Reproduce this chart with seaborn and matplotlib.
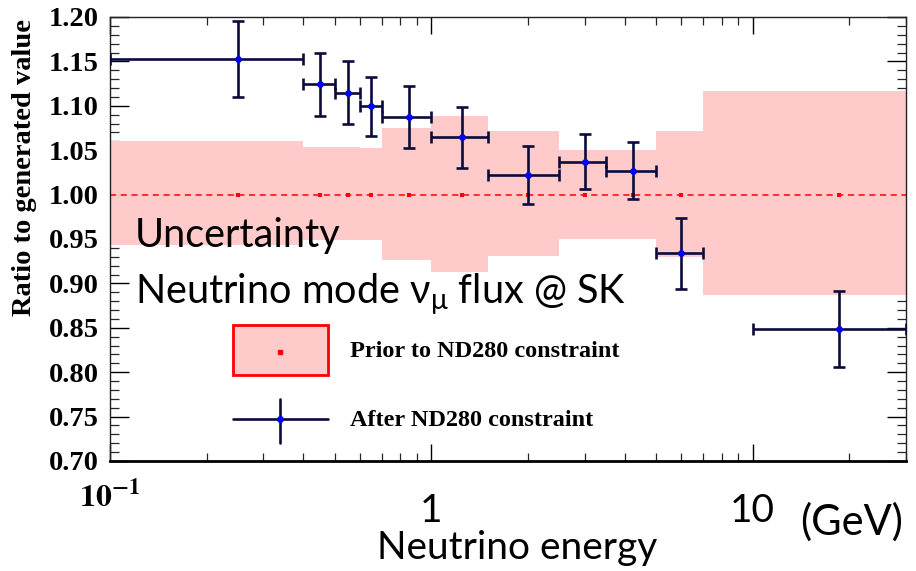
import numpy as np
import matplotlib
matplotlib.use("Agg")
import matplotlib.pyplot as plt
import matplotlib.ticker as mticker
import matplotlib.transforms as mtransforms
from matplotlib.patches import Rectangle
from matplotlib.lines import Line2D
import seaborn as sns

# Prior flux uncertainty band (per energy bin, GeV)
bin_edges = [0.1, 0.4, 0.5, 0.6, 0.7, 1.0, 1.5, 2.5, 3.5, 5.0, 7.0, 30.0]
prior_upper = [1.060, 1.054, 1.054, 1.0525, 1.075, 1.089, 1.072, 1.0507, 1.0507, 1.072, 1.1163]
prior_lower = [0.943, 0.949, 0.949, 0.949, 0.926, 0.9125, 0.9305, 0.950, 0.950, 0.930, 0.887]

# Post-fit points (after ND280 constraint)
energy = [0.25, 0.45, 0.55, 0.65, 0.85, 1.25, 2.0, 3.0, 4.25, 6.0, 18.5]
energy_low = [0.1, 0.4, 0.5, 0.6, 0.7, 1.0, 1.5, 2.5, 3.5, 5.0, 10.0]
energy_high = [0.4, 0.5, 0.6, 0.7, 1.0, 1.5, 2.5, 3.5, 5.0, 7.0, 30.0]
ratio = [1.1525, 1.124, 1.1145, 1.0995, 1.087, 1.0645, 1.022, 1.037, 1.027, 0.934, 0.849]
ratio_err = [0.0425, 0.036, 0.0355, 0.033, 0.035, 0.034, 0.033, 0.031, 0.032, 0.040, 0.043]
prior_center = [1.0] * len(energy)

ytick_values = [0.70, 0.75, 0.80, 0.85, 0.90, 0.95, 1.00, 1.05, 1.10, 1.15, 1.20]

PINK = "#ffcaca"
RED = "#ff0000"
NAVY = "#0b0b3b"
BLUE = "#0000ff"
SERIF_BOLD = dict(family="Liberation Serif", weight="bold", color="black")
SANS = ["Lato", "DejaVu Sans"]

sns.set_theme(style="white")
plt.rcParams["font.family"] = SANS
plt.rcParams["text.color"] = "black"
plt.rcParams["axes.labelcolor"] = "black"

fig = plt.figure(figsize=(9.16, 5.71), dpi=100)
fig.patch.set_facecolor("white")
ax = fig.add_axes([110 / 916, 110 / 571, 796 / 916, 444 / 571])
ax.set_facecolor("white")
ax.set_xscale("log")
ax.set_xlim(0.1, 30)
ax.set_ylim(0.70, 1.20)

# Prior band
ax.stairs(prior_upper, bin_edges, baseline=prior_lower, fill=True,
          color=PINK, linewidth=0, zorder=1)
ax.axhline(1.0, color=RED, lw=1.1, ls=(0, (4, 3)), zorder=2)
sns.scatterplot(x=energy, y=prior_center, marker="s", color=RED, s=9,
                linewidth=0, ax=ax, zorder=3)

# After-constraint points
e = np.array(energy)
ax.errorbar(e, ratio,
            xerr=[e - np.array(energy_low), np.array(energy_high) - e],
            yerr=ratio_err, fmt="none", ecolor=NAVY, elinewidth=1.9,
            capsize=4.5, capthick=1.9, zorder=4)
sns.scatterplot(x=energy, y=ratio, marker="o", color=BLUE, s=24,
                linewidth=0, ax=ax, zorder=5)

# Axes styling
for side in ["top", "left", "right"]:
    ax.spines[side].set_linewidth(1.0)
    ax.spines[side].set_color("#222222")
ax.spines["bottom"].set_linewidth(2.0)
ax.spines["bottom"].set_color("black")

ax.set_yticks(ytick_values)
ax.set_yticklabels([f"{v:.2f}" for v in ytick_values], fontdict=dict(SERIF_BOLD, size=20.5))
ax.yaxis.set_minor_locator(mticker.MultipleLocator(0.01))
ax.tick_params(axis="y", which="major", direction="in", length=14, width=1.0,
               left=True, right=True, pad=8, colors="black")
ax.tick_params(axis="y", which="minor", direction="in", length=6.5, width=0.9,
               left=True, right=True)

ax.set_xticks([0.1, 1, 10])
ax.set_xticklabels(["", "1", "10"], fontdict=dict(family=SANS, size=28, color="black"))
ax.xaxis.set_minor_locator(mticker.LogLocator(base=10, subs=np.arange(2, 10)))
ax.xaxis.set_minor_formatter(mticker.NullFormatter())
ax.tick_params(axis="x", which="major", direction="in", length=12, width=1.0,
               bottom=True, top=True, pad=23, colors="black")
ax.tick_params(axis="x", which="minor", direction="in", length=5.5, width=0.9,
               bottom=True, top=True)

xtrans = mtransforms.blended_transform_factory(ax.transData, ax.transAxes)
ax.text(0.1, -0.042, r"$\mathbf{10^{-1}}$", transform=xtrans, ha="center", va="top",
        fontsize=23, math_fontfamily="stix", color="black")

ax.set_ylabel("Ratio to generated value", fontdict=dict(SERIF_BOLD, size=20.5))
ax.yaxis.set_label_coords(-0.092, 0.662)
ax.set_xlabel("Neutrino energy", fontsize=28, color="black")
ax.xaxis.set_label_coords(0.511, -0.155)
fig.text(800 / 916, 0.086, "(GeV)", ha="left", va="center", fontsize=30, color="black")

# Annotations inside the frame
ax.text(0.0314, 0.482, "Uncertainty", transform=ax.transAxes, fontsize=28.5,
        ha="left", va="baseline", color="black", zorder=6)
ax.text(0.0314, 0.356, r"Neutrino mode ν$_{\mathregular{μ}}$ flux @ SK",
        transform=ax.transAxes, fontsize=28.5, ha="left", va="baseline",
        color="black", zorder=6)

# Legend
ax.add_patch(Rectangle((0.1545, 0.1937), 0.1194, 0.1126, transform=ax.transAxes,
                       facecolor=PINK, edgecolor=RED, linewidth=2, zorder=6))
ax.add_line(Line2D([0.2136], [0.2455], transform=ax.transAxes, marker="s",
                   markersize=3, color=RED, linestyle="none", zorder=7))
ax.add_line(Line2D([0.1545, 0.2739], [0.0946, 0.0946], transform=ax.transAxes,
                   color=NAVY, lw=1.9, zorder=6))
ax.add_line(Line2D([0.2136, 0.2136], [0.0405, 0.1396], transform=ax.transAxes,
                   color=NAVY, lw=1.9, zorder=6))
ax.add_line(Line2D([0.2136], [0.0946], transform=ax.transAxes, marker="o",
                   markersize=5, color=BLUE, markeredgewidth=0, linestyle="none", zorder=7))
ax.text(0.3015, 0.2455, "Prior to ND280 constraint", transform=ax.transAxes,
        ha="left", va="center", fontdict=dict(SERIF_BOLD, size=17.5), zorder=7)
ax.text(0.3015, 0.0923, "After ND280 constraint", transform=ax.transAxes,
        ha="left", va="center", fontdict=dict(SERIF_BOLD, size=17.5), zorder=7)

fig.savefig("out.png", dpi=100, facecolor="white")
